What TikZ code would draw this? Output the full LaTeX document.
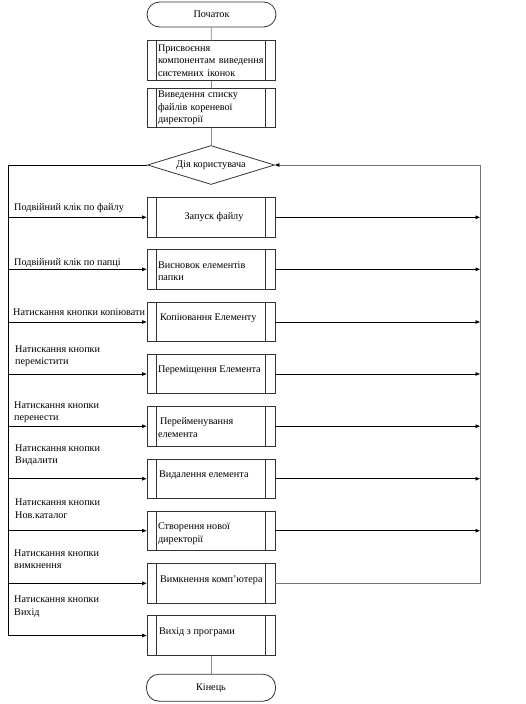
\documentclass[tikz,border=0pt]{standalone}
\usepackage{fontspec}
\setmainfont{Liberation Serif}
\usetikzlibrary{shapes.geometric,arrows.meta}
\begin{document}
\begin{tikzpicture}[x=1pt,y=-1pt,
  every node/.style={font=\fontsize{10.2}{12.6}\selectfont},
  line/.style={draw=black,line width=0.8pt},
  conn/.style={draw=black!45,line width=0.8pt},
  arr/.style={line,-{Triangle[length=4.5pt,width=3.5pt,black]}},
  term/.style={draw=black!80,line width=0.8pt,rounded corners=12.5pt,minimum width=129pt,inner sep=0pt},
  proc/.style={draw=black!80,line width=0.8pt,minimum width=128pt,minimum height=39.5pt,inner sep=0pt,
    path picture={\draw[black!80,line width=0.8pt]
      ([xshift=9.5pt]path picture bounding box.north west) -- ([xshift=9.5pt]path picture bounding box.south west)
      ([xshift=-9.5pt]path picture bounding box.north east) -- ([xshift=-9.5pt]path picture bounding box.south east);}},
  toptxt/.style={text height=7pt,text depth=9.5pt},
  lbl/.style={anchor=north west,inner sep=0pt,align=left},
  dec/.style={diamond,draw=black!80,line width=0.8pt,minimum width=127pt,minimum height=39pt,inner sep=0pt,aspect=3.2}
]
\useasboundingbox (0,0) rectangle (526,704);
\newcommand{\bt}[1]{\parbox[t]{106pt}{\raggedright #1}}

\node[term,minimum height=25pt] (start) at (211.5,14.5) {Початок};
\node[proc,minimum height=40pt,align=left,text width=106pt] (p1) at (211,60.7) {Присвоєння\\компонентам виведення\\системних іконок};
\node[proc,minimum height=39pt,align=left,text width=106pt] (p2) at (211,107.8) {Виведення списку\\файлів кореневої\\директорії};
\node[dec] (dia) at (211,165) {Дія користувача};

\node[proc] (b1) at (211,217.3) {\hspace*{6pt}Запуск файлу};
\node[proc,toptxt] (b2) at (211,269.3) {\bt{Висновок елементів\\папки}};
\node[proc,toptxt] (b3) at (211,322) {\bt{\hspace*{2pt}Копіювання Елементу}};
\node[proc,toptxt] (b4) at (211,374) {\bt{Переміщення Елемента}};
\node[proc,toptxt] (b5) at (211,426.2) {\bt{\hspace*{2pt}Перейменування\\елемента}};
\node[proc,toptxt] (b6) at (211,478.7) {\bt{\hspace*{1pt}Видалення елемента}};
\node[proc,toptxt] (b7) at (211,530.7) {\bt{Створення нової\\директорії}};
\node[proc,toptxt] (b8) at (211,583.3) {\bt{\hspace*{2pt}Вимкнення комп'ютера}};
\node[proc,toptxt] (b9) at (211,635.5) {\bt{\hspace*{1pt}Вихід з програми}};
\node[term,minimum height=27pt] (end) at (211,687.7) {Кінець};

\coordinate (lx) at (8,165);
\coordinate (rx) at (480,165);

\draw[conn] (start) -- (p1);
\draw[conn] (p1) -- (p2);
\draw[conn] (p2) -- (dia);
\draw[conn] (b9) -- (end);

\draw[arr] (dia.west) -- (lx) |- (b9.west);
\foreach \b in {b1,b2,b3,b4,b5,b6,b7,b8}{
  \draw[arr] (lx |- \b.west) -- (\b.west);
}
\foreach \b in {b1,b2,b3,b4,b5,b6,b7}{
  \draw[arr] (\b.east) -- (\b.east -| rx);
}
\draw[line,draw=black!55] (b8.east) -| (rx);
\draw[arr,draw=black!55] (rx) -- (dia.east);

\node[lbl] (l1) at (14,203.5) {Подвійний клік по файлу};
\node[lbl] (l2) at (14,258.2) {Подвійний клік по папці};
\node[lbl] (l3) at (13,308.5) {Натискання кнопки копіювати};
\node[lbl] (l4) at (15,345.5) {Натискання кнопки\\перемістити};
\node[lbl] (l5) at (14,401.5) {Натискання кнопки\\перенести};
\node[lbl] (l6) at (15,444.2) {Натискання кнопки\\Видалити};
\node[lbl] (l7) at (15,498.8) {Натискання кнопки\\Нов.каталог};
\node[lbl] (l8) at (14,549.2) {Натискання кнопки\\вимкнення};
\node[lbl] (l9) at (14,595.8) {Натискання кнопки\\Вихід};
\end{tikzpicture}
\end{document}
